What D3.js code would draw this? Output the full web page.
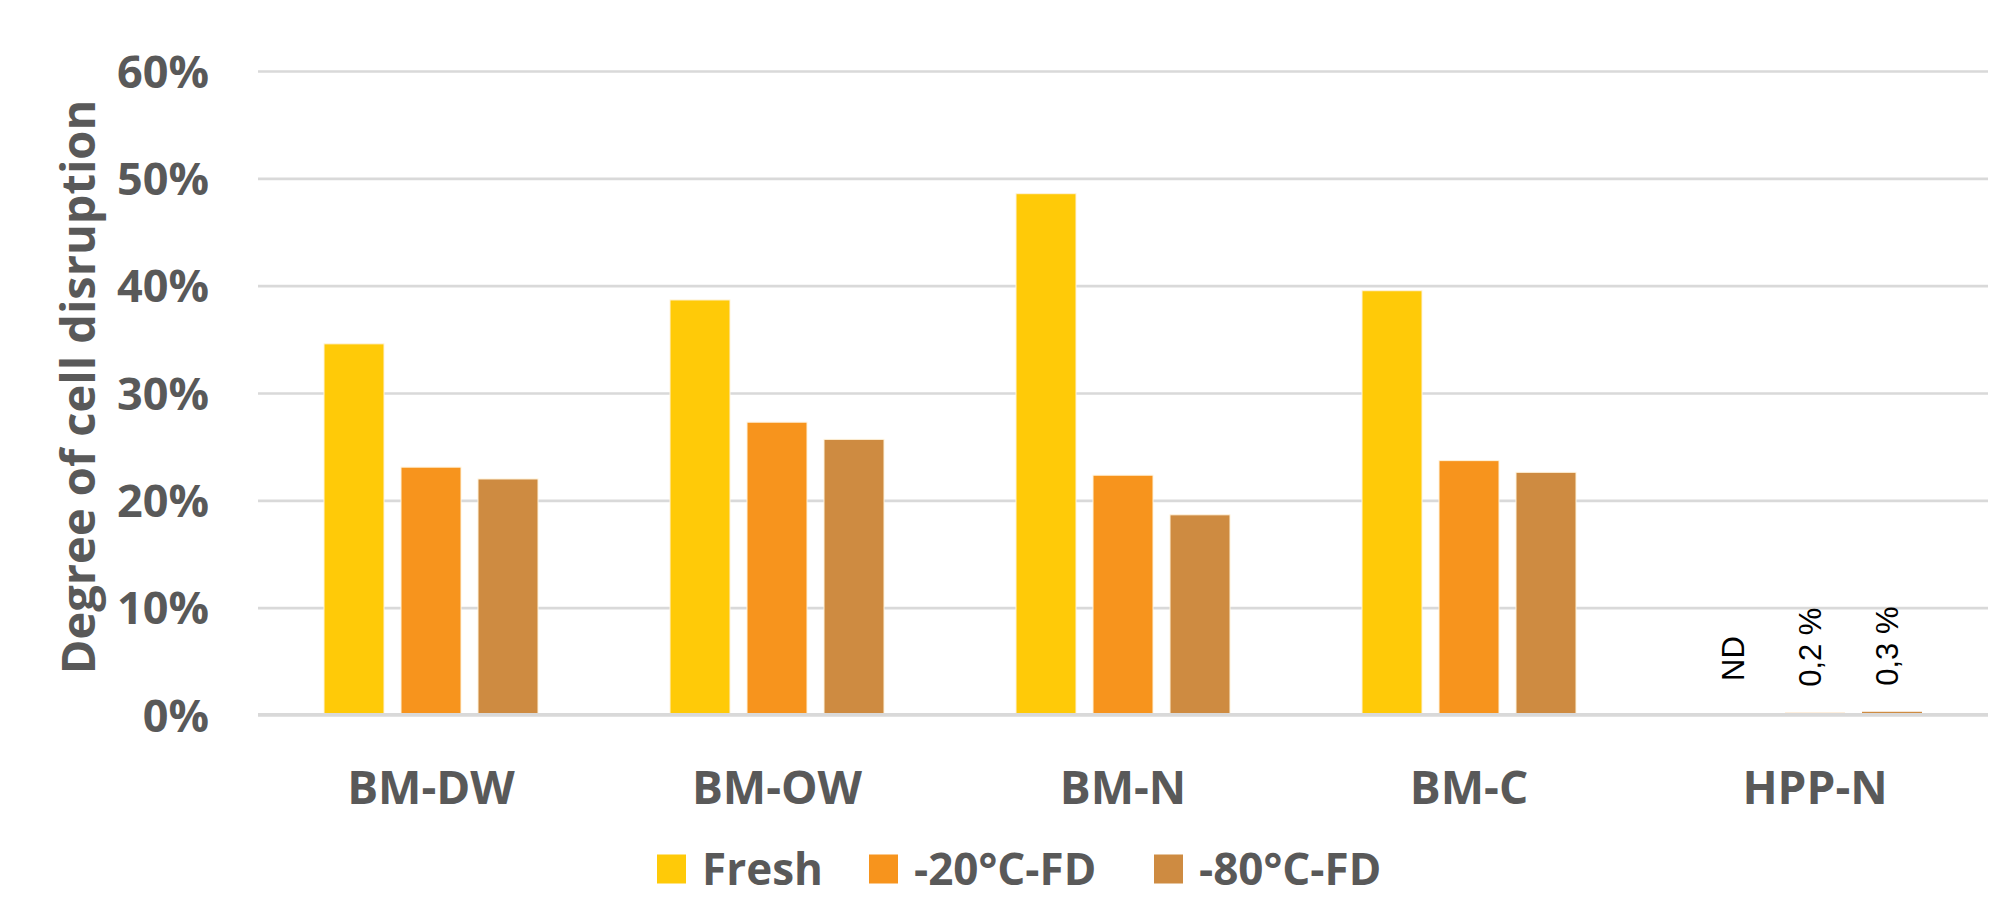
<!DOCTYPE html>
<html>
<head>
<meta charset="utf-8">
<script src="https://cdn.jsdelivr.net/npm/d3@7"></script>
<style>
  html, body { margin: 0; padding: 0; background: #ffffff; }
  svg { display: block; }
</style>
</head>
<body>
<svg id="chart" width="2011" height="900"></svg>
<script>
// ---------- data ----------
const categories = ["BM-DW", "BM-OW", "BM-N", "BM-C", "HPP-N"];
const seriesNames = ["Fresh", "-20°C-FD", "-80°C-FD"];
const freshValues = [0.3458, 0.3867, 0.4857, 0.3953, 0];
const fd20Values  = [0.2309, 0.2728, 0.2234, 0.2370, 0.002];
const fd80Values  = [0.2199, 0.2568, 0.1865, 0.2261, 0.003];
const hppLabels   = ["ND", "0,2 %", "0,3 %"];
const yTicks = [0, 0.1, 0.2, 0.3, 0.4, 0.5, 0.6];
const yTitle = "Degree of cell disruption";
const colors = ["#FFCA08", "#F7941D", "#CE8B41"];

const seriesValues = [freshValues, fd20Values, fd80Values];

// ---------- layout ----------
const svg = d3.select("#chart");
const plotLeft = 258, plotRight = 1988, plotTop = 71, plotBottom = 715;
const textColor = "#595959";
const boldFont = "'Open Sans', 'DejaVu Sans', sans-serif";

const y = d3.scaleLinear().domain([0, 0.6]).range([plotBottom, plotTop]);
const x0 = d3.scaleBand().domain(categories).range([plotLeft, plotRight]).padding(0);
const x1 = d3.scaleBand().domain(seriesNames)
  .range([66, x0.bandwidth() - 66])
  .paddingInner(17 / 77).paddingOuter(0);

// gridlines
const grid = svg.append("g").attr("transform", `translate(${plotLeft},0)`)
  .call(d3.axisLeft(y).tickValues(yTicks).tickSize(-(plotRight - plotLeft)).tickFormat(""));
grid.select(".domain").remove();
grid.selectAll("line").attr("stroke", "#D9D9D9").attr("stroke-width", 2.6);

// y tick labels
const yAxis = svg.append("g").attr("transform", `translate(${plotLeft},0)`)
  .call(d3.axisLeft(y).tickValues(yTicks).tickSize(0).tickPadding(49).tickFormat(d3.format(".0%")));
yAxis.select(".domain").remove();
yAxis.selectAll("text")
  .attr("fill", textColor)
  .style("font-family", boldFont)
  .style("font-weight", "700")
  .style("font-size", "45px")
  .attr("dy", "0.36em");

// bars
const groups = svg.append("g").selectAll("g")
  .data(categories)
  .join("g")
  .attr("transform", d => `translate(${x0(d)},0)`);

groups.selectAll("rect")
  .data((c, ci) => seriesNames.map((s, si) => ({ s, si, v: seriesValues[si][ci] })))
  .join("rect")
  .attr("x", d => x1(d.s))
  .attr("width", x1.bandwidth())
  .attr("y", d => y(d.v))
  .attr("height", d => y(0) - y(d.v))
  .attr("fill", d => colors[d.si])
  .attr("stroke", d => d.v > 0.01 ? "#FFF3DC" : "none")
  .attr("stroke-width", 1);

// baseline on top of bars
svg.append("line")
  .attr("x1", plotLeft).attr("x2", plotRight)
  .attr("y1", y(0) - 0.5).attr("y2", y(0) - 0.5)
  .attr("stroke", "#D9D9D9").attr("stroke-width", 3);

// HPP-N data labels (rotated)
const hppIdx = 4;
const hpp = categories[hppIdx];
svg.append("g").selectAll("text")
  .data(seriesNames.map((s, si) => ({ s, si, v: seriesValues[si][hppIdx], label: hppLabels[si] })))
  .join("text")
  .attr("transform", d => {
    const cx = x0(hpp) + x1(d.s) + x1.bandwidth() / 2 + 6;
    const cy = y(d.v) - (d.si === 0 ? 34 : 26);
    return `translate(${cx},${cy}) rotate(-90)`;
  })
  .attr("text-anchor", "start")
  .attr("fill", "#000000")
  .style("font-family", "'Liberation Sans', Arial, sans-serif")
  .style("font-size", "31px")
  .text(d => d.label);

// x axis labels
const xAxis = svg.append("g").attr("transform", `translate(0,${plotBottom})`)
  .call(d3.axisBottom(x0).tickSize(0));
xAxis.select(".domain").remove();
xAxis.selectAll("text")
  .attr("dy", null)
  .attr("y", 89)
  .attr("fill", textColor)
  .style("font-family", boldFont)
  .style("font-weight", "700")
  .style("font-size", "46px");

// y axis title
svg.append("text")
  .attr("transform", `translate(95,${(plotTop + plotBottom) / 2 - 6}) rotate(-90)`)
  .attr("text-anchor", "middle")
  .attr("fill", textColor)
  .style("font-family", boldFont)
  .style("font-weight", "700")
  .style("font-size", "47px")
  .text(yTitle);

// legend
const legend = svg.append("g");
const legendY = 869;
const sqSize = 29;
const legendX = [657, 869, 1154];
const li = legend.selectAll("g")
  .data(seriesNames)
  .join("g")
  .attr("transform", (d, i) => `translate(${legendX[i]},${legendY})`);
li.append("rect")
  .attr("x", 0).attr("y", -sqSize / 2)
  .attr("width", sqSize).attr("height", sqSize)
  .attr("fill", (d, i) => colors[i]);
li.append("text")
  .attr("x", 45).attr("y", 0).attr("dy", "0.36em")
  .attr("fill", textColor)
  .style("font-family", boldFont)
  .style("font-weight", "700")
  .style("font-size", "44px")
  .text(d => d);
</script>
</body>
</html>
